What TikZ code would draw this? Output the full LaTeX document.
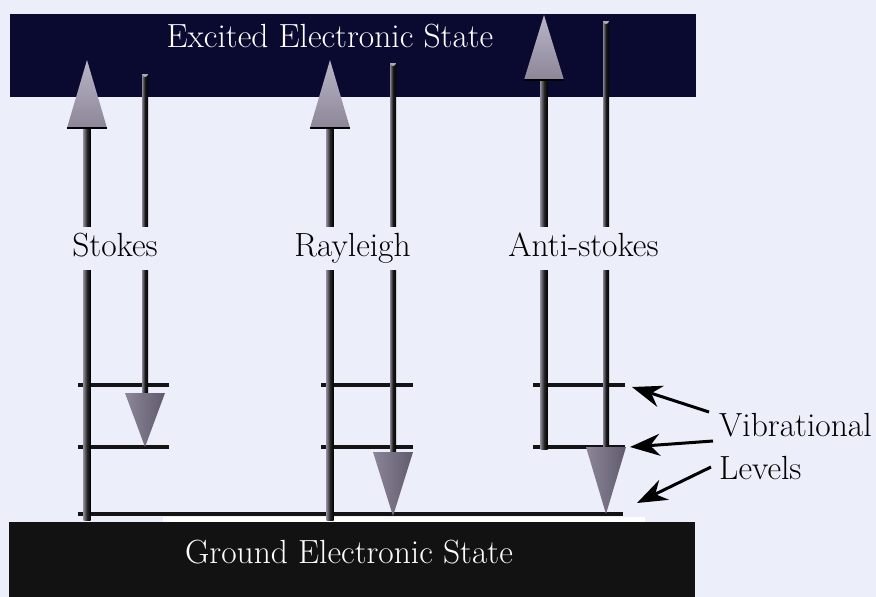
\documentclass[tikz,border=0pt]{standalone}
\usetikzlibrary{arrows.meta}
\definecolor{bg}{RGB}{236,238,249}
\definecolor{navy}{RGB}{10,10,48}
\definecolor{gnd}{RGB}{18,18,18}
\definecolor{headlight}{RGB}{185,180,198}
\definecolor{headmid}{RGB}{140,134,152}
\definecolor{headdark}{RGB}{95,90,108}
\definecolor{shaftgray}{RGB}{135,130,145}
\newcommand\ramanUp[5]{% x, y bottom, y head base, y tip, name
  \coordinate (#5-s) at (#1,#2);
  \coordinate (#5-t) at (#1,#4);
  \shade[left color=shaftgray, right color=black, middle color=black!85] ({#1-3.5},#2) rectangle ({#1+3.5},#3);
  \shade[top color=headlight, bottom color=headmid] (#5-t) -- ({#1+20},#3) -- ({#1-20},#3) -- cycle;
  \draw[black, line width=1.5pt] ({#1-20},#3) -- ({#1+20},#3);
}
\newcommand\ramanDown[5]{% x, y top, y head base, y tip, name
  \coordinate (#5-s) at (#1,#2);
  \coordinate (#5-t) at (#1,#4);
  \shade[left color=shaftgray, right color=black, middle color=black!90] ({#1-3},{#2+4}) rectangle ({#1+3},#3);
  \fill[shaftgray!70] ({#1-3},{#2+4}) arc[start angle=180, end angle=0, radius=3] -- cycle;
  \shade[left color=headmid, right color=headdark] ({#1-20},#3) -- ({#1+20},#3) -- (#5-t) -- cycle;
}
\begin{document}
\begin{tikzpicture}[x=1pt,y=-1pt,
  bigtext/.style={font=\fontsize{33.5}{40}\selectfont, inner sep=0pt},
  lbl/.style={bigtext, fill=bg, text height=24pt, text depth=9pt, inner xsep=3pt, inner ysep=5pt},
  lvl/.style={line width=4pt, black!92},
  ptr/.style={line width=3pt, black, -{Stealth[length=30pt,width=22pt]}}]
\useasboundingbox (0,0) rectangle (876,597);
\fill[bg] (0,0) rectangle (876,597);
% electronic states
\node[fill=navy, minimum width=686pt, minimum height=83pt, inner sep=0pt, anchor=north west] (exc) at (10,14) {};
\fill[white] (163,517) rectangle (645,522);
\node[fill=gnd, minimum width=686pt, minimum height=76pt, inner sep=0pt, anchor=north west] (gnd) at (9,522) {};
\node[bigtext, text=white, anchor=base] (exctext) at (330,47) {Excited Electronic State};
\node[bigtext, text=white, anchor=base] (gndtext) at (349,563) {Ground Electronic State};
% vibrational levels
\coordinate (g0) at (78,514); \coordinate (g1) at (623,514);
\draw[lvl] (g0) -- (g1);
\coordinate (s1a) at (78,385); \coordinate (s1b) at (169,385);
\coordinate (s2a) at (78,447); \coordinate (s2b) at (169,447);
\coordinate (r1a) at (321,385); \coordinate (r1b) at (413,385);
\coordinate (r2a) at (321,447); \coordinate (r2b) at (413,447);
\coordinate (a1a) at (533,385); \coordinate (a1b) at (625,385);
\coordinate (a2a) at (533,447); \coordinate (a2b) at (625,447);
\foreach \a/\b in {s1a/s1b,s2a/s2b,r1a/r1b,r2a/r2b,a1a/a1b,a2a/a2b}
  \draw[lvl] (\a) -- (\b);
% transitions
\ramanUp{87}{520}{128}{60}{su}
\ramanDown{145}{70}{393}{447}{sd}
\ramanUp{330}{520}{128}{60}{ru}
\ramanDown{393}{59}{452}{516}{rd}
\ramanUp{544}{449}{80}{15}{au}
\ramanDown{606}{17}{447}{514}{ad}
% labels
\node[lbl, anchor=base] (stokes) at (115,256) {Stokes};
\node[lbl, anchor=base] (rayleigh) at (352.5,256) {Rayleigh};
\node[lbl, anchor=base] (antistokes) at (583.5,256) {Anti-stokes};
% vibrational levels label
\node[bigtext, anchor=base west] (vib) at (719,436) {Vibrational};
\node[bigtext, anchor=base west] (levels) at (719,479) {Levels};
\coordinate (p1s) at (709,412); \coordinate (p1e) at (632,387);
\coordinate (p2s) at (713,441); \coordinate (p2e) at (630,447);
\coordinate (p3s) at (711,467); \coordinate (p3e) at (637,503);
\draw[ptr] (p1s) -- (p1e);
\draw[ptr] (p2s) -- (p2e);
\draw[ptr] (p3s) -- (p3e);
\end{tikzpicture}
\end{document}
